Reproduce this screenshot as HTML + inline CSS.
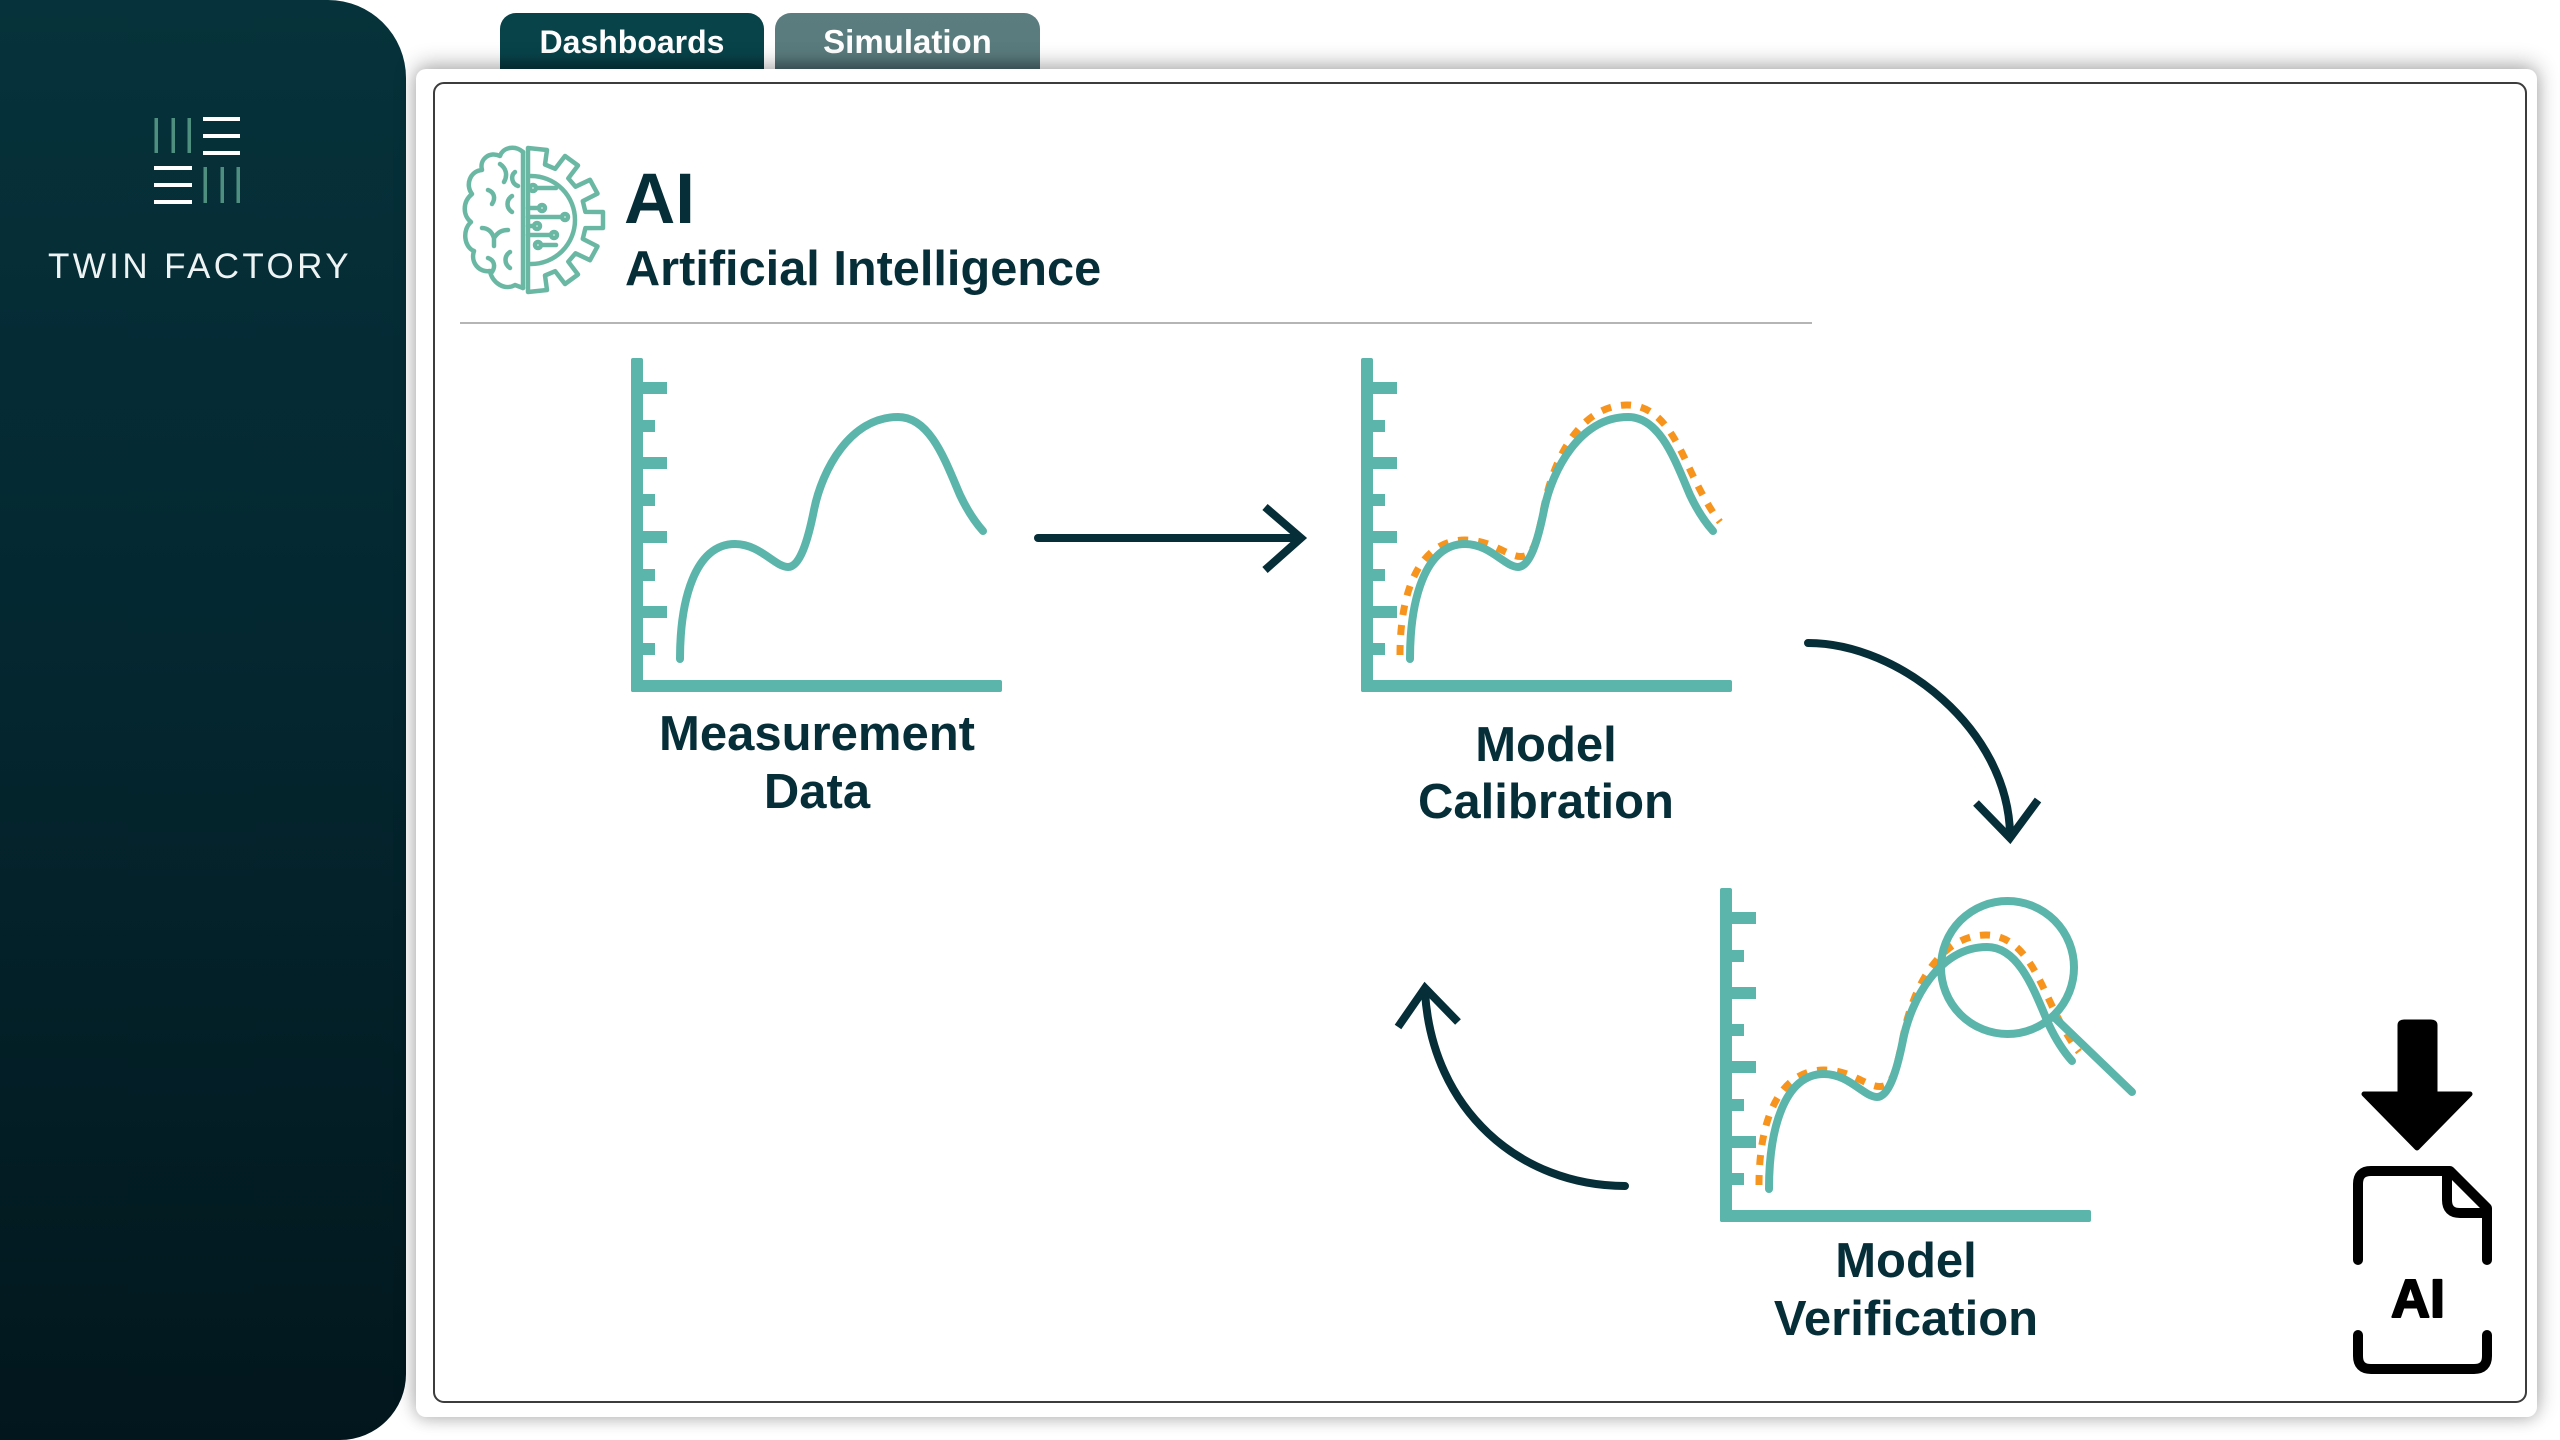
<!DOCTYPE html>
<html>
<head>
<meta charset="utf-8">
<style>
  html,body{margin:0;padding:0;}
  body{width:2560px;height:1440px;overflow:hidden;background:#ffffff;position:relative;font-family:"Liberation Sans",sans-serif;}
  .sidebar{position:absolute;left:0;top:0;width:406px;height:1440px;
    background:linear-gradient(180deg,#06323b 0%,#042730 45%,#02171d 100%);
    border-top-right-radius:78px;border-bottom-right-radius:66px;}
  .tab{position:absolute;top:13px;height:60px;border-top-left-radius:16px;border-top-right-radius:16px;
    color:#fff;font-weight:bold;font-size:32px;text-align:center;box-sizing:border-box;}
  .tab span{position:absolute;left:0;right:0;top:13px;line-height:32px;}
  .t1{left:500px;width:264px;background:linear-gradient(180deg,#08434a 0%,#08434a 70%,#05333a 100%);}
  .t2{left:775px;width:265px;background:linear-gradient(180deg,#5b7d7f 0%,#5a7b7d 70%,#47656a 100%);font-size:33px;}
  .panel{position:absolute;left:416px;top:69px;width:2121px;height:1348px;background:#fff;border-radius:10px;
    box-shadow:0 -4px 22px rgba(0,0,0,0.32), 0 4px 14px rgba(0,0,0,0.12);}
  .inner{position:absolute;left:433px;top:82px;width:2094px;height:1321px;box-sizing:border-box;
    border:2px solid #3c3c3c;border-radius:11px;}
  svg.main{position:absolute;left:0;top:0;}
</style>
</head>
<body>
<div class="sidebar"></div>
<div class="tab t1"><span>Dashboards</span></div>
<div class="tab t2"><span>Simulation</span></div>
<div class="panel"></div>
<div class="inner"></div>

<svg class="main" width="2560" height="1440" viewBox="0 0 2560 1440" xmlns="http://www.w3.org/2000/svg">
  <!-- Logo -->
  <g>
    <g fill="#4f8f7f">
      <rect x="154.5" y="118" width="3.5" height="35"/>
      <rect x="171.5" y="118" width="3.5" height="35"/>
      <rect x="187.5" y="118" width="3.5" height="35"/>
      <rect x="203.5" y="167" width="3.5" height="36"/>
      <rect x="220.5" y="167" width="3.5" height="36"/>
      <rect x="236.5" y="167" width="3.5" height="36"/>
    </g>
    <g fill="#ffffff">
      <rect x="203" y="117" width="37" height="4"/>
      <rect x="203" y="134" width="37" height="4"/>
      <rect x="203" y="151" width="37" height="4"/>
      <rect x="154" y="166" width="38" height="4"/>
      <rect x="154" y="183" width="38" height="4"/>
      <rect x="154" y="200" width="38" height="4"/>
    </g>
    <text x="48" y="278" font-family="Liberation Sans, sans-serif" font-size="35" letter-spacing="3.4" fill="#eef3f3">TWIN FACTORY</text>
  </g>

  <!-- Brain / gear icon -->
  <g fill="none" stroke="#6ab8a4" stroke-width="4.5" stroke-linecap="round" stroke-linejoin="round">
    <path d="M528,292 L528,148 L547,150 L545,164.5 L555.2,168.8 L565,156 L578,165.5 L568.3,178.3 L575.5,186.7 L590,179.8 L597.5,193.6 L582.8,201.1 L585.4,211.9 L603,212 L603,228 L585.4,228.1 L582.8,238.9 L597.5,246.4 L590,260.2 L575.5,253.3 L568.3,261.7 L578,274.5 L565,284 L555.2,271.2 L545,275.5 L547,290 Z"/>
    <path d="M531,176 A44,44 0 0 1 531,264"/>
    <path d="M536,188 H556"/>
    <path d="M528,208 H539"/>
    <path d="M528,217 H561"/>
    <path d="M528,226 H534"/>
    <path d="M528,235 H550"/>
    <path d="M541,245 H556"/>
    <circle cx="533" cy="188" r="3"/>
    <circle cx="542" cy="208" r="3"/>
    <circle cx="565" cy="217" r="3"/>
    <circle cx="537" cy="226" r="3"/>
    <circle cx="554" cy="235" r="3"/>
    <circle cx="538" cy="245" r="3"/>
    <path d="M523,152 L523,288"/>
    <path d="M523,152 C515,145 503,147 500,156 C490,151 479,159 482,170 C470,171 465,185 472,194 C462,202 463,216 471,222 C462,230 464,247 474,251 C470,263 480,273 490,271 C492,283 505,291 515,285 L523,288"/>
    <path d="M500,164 C506,168 508,175 504,182"/>
    <path d="M488,190 C494,192 496,198 492,204"/>
    <path d="M512,196 C506,200 506,208 512,212"/>
    <path d="M482,228 C488,228 492,232 494,238 M494,238 C498,232 502,230 508,230 M494,238 L494,246"/>
    <path d="M510,252 C504,256 504,264 510,268"/>
    <path d="M488,258 C494,260 496,266 492,272"/>
    <path d="M515,172 C510,176 512,184 518,186"/>
  </g>

  <!-- Headings -->
  <text x="624" y="223" font-family="Liberation Sans, sans-serif" font-weight="bold" font-size="71" fill="#062e38">AI</text>
  <text x="625" y="285" font-family="Liberation Sans, sans-serif" font-weight="bold" font-size="48.7" fill="#062e38">Artificial Intelligence</text>
  <rect x="460" y="322" width="1352" height="2" fill="#b5b5b5"/>

  <defs>
    <g id="axis" fill="#5bb5ab">
      <rect x="631" y="358" width="12" height="334" rx="2"/>
      <rect x="631" y="680" width="371" height="12" rx="2"/>
      <rect x="641" y="382" width="26" height="12"/>
      <rect x="641" y="420" width="14" height="12"/>
      <rect x="641" y="457" width="26" height="12"/>
      <rect x="641" y="494" width="14" height="12"/>
      <rect x="641" y="531" width="26" height="12"/>
      <rect x="641" y="569" width="14" height="12"/>
      <rect x="641" y="606" width="26" height="12"/>
      <rect x="641" y="643" width="14" height="12"/>
    </g>
    <path id="curve" d="M680,659 C680,600 695,544 735,544 C760,544 775,567 788,567 C800,567 808,540 814,510 C822,470 850,417 898,417 C930,417 945,460 960,495 C968,512 975,522 983,531" fill="none" stroke="#5bb5ab" stroke-width="8" stroke-linecap="round"/>
    <path id="orange" d="M670,655 C670,590 690,540 735,540 C765,540 780,560 795,556 C808,552 810,520 818,490 C832,440 860,405 897,405 C935,405 950,450 965,480 C975,500 982,512 990,522" fill="none" stroke="#f7941e" stroke-width="7" stroke-dasharray="10 10"/>
  </defs>

  <use href="#axis"/>
  <use href="#curve"/>

  <g transform="translate(730,0)">
    <use href="#axis"/>
    <use href="#orange"/>
    <use href="#curve"/>
  </g>

  <g transform="translate(1089,530)">
    <use href="#axis"/>
    <use href="#orange"/>
    <use href="#curve"/>
  </g>
  <g fill="none" stroke="#5bb5ab" stroke-width="8" stroke-linecap="round">
    <circle cx="2007.5" cy="967.5" r="66.5"/>
    <path d="M2055,1018 L2132,1092"/>
  </g>

  <g font-family="Liberation Sans, sans-serif" font-weight="bold" font-size="49" fill="#062e38" text-anchor="middle">
    <text x="817" y="750">Measurement</text>
    <text x="817" y="808">Data</text>
    <text x="1546" y="761">Model</text>
    <text x="1546" y="818">Calibration</text>
    <text x="1906" y="1277">Model</text>
    <text x="1906" y="1335">Verification</text>
  </g>

  <g fill="none" stroke="#062e38" stroke-width="8">
    <path d="M1038,538 L1300,538" stroke-linecap="round"/>
    <path d="M1265,507 L1301,538 L1265,570"/>
    <path d="M1808,643 C1900,643 2008,730 2010,834" stroke-linecap="round"/>
    <path d="M1976,803 L2010,838 L2038,800"/>
    <path d="M1625,1186 C1520,1186 1432,1110 1425,992" stroke-linecap="round"/>
    <path d="M1398,1027 L1425,988 L1458,1022"/>
  </g>

  <g>
    <path d="M2400,1025 Q2400,1022 2404,1022 L2431,1022 Q2435,1022 2435,1025 L2435,1094 L2470,1094 L2417,1148 L2364,1094 L2400,1094 Z" fill="#000" stroke="#000" stroke-width="5" stroke-linejoin="round"/>
    <g fill="none" stroke="#000" stroke-width="10" stroke-linecap="round" stroke-linejoin="round">
      <path d="M2358,1260 L2358,1184 Q2358,1171 2371,1171 L2450,1171 L2487,1208 L2487,1260"/>
      <path d="M2447,1173 L2447,1200 Q2447,1213 2460,1213 L2485,1213"/>
      <path d="M2358,1335 L2358,1356 Q2358,1369 2371,1369 L2474,1369 Q2487,1369 2487,1356 L2487,1335"/>
    </g>
    <text x="2418" y="1317" font-family="Liberation Sans, sans-serif" font-weight="bold" font-size="54" fill="#000" stroke="#000" stroke-width="2" stroke-linejoin="round" text-anchor="middle">AI</text>
  </g>
</svg>
</body>
</html>
